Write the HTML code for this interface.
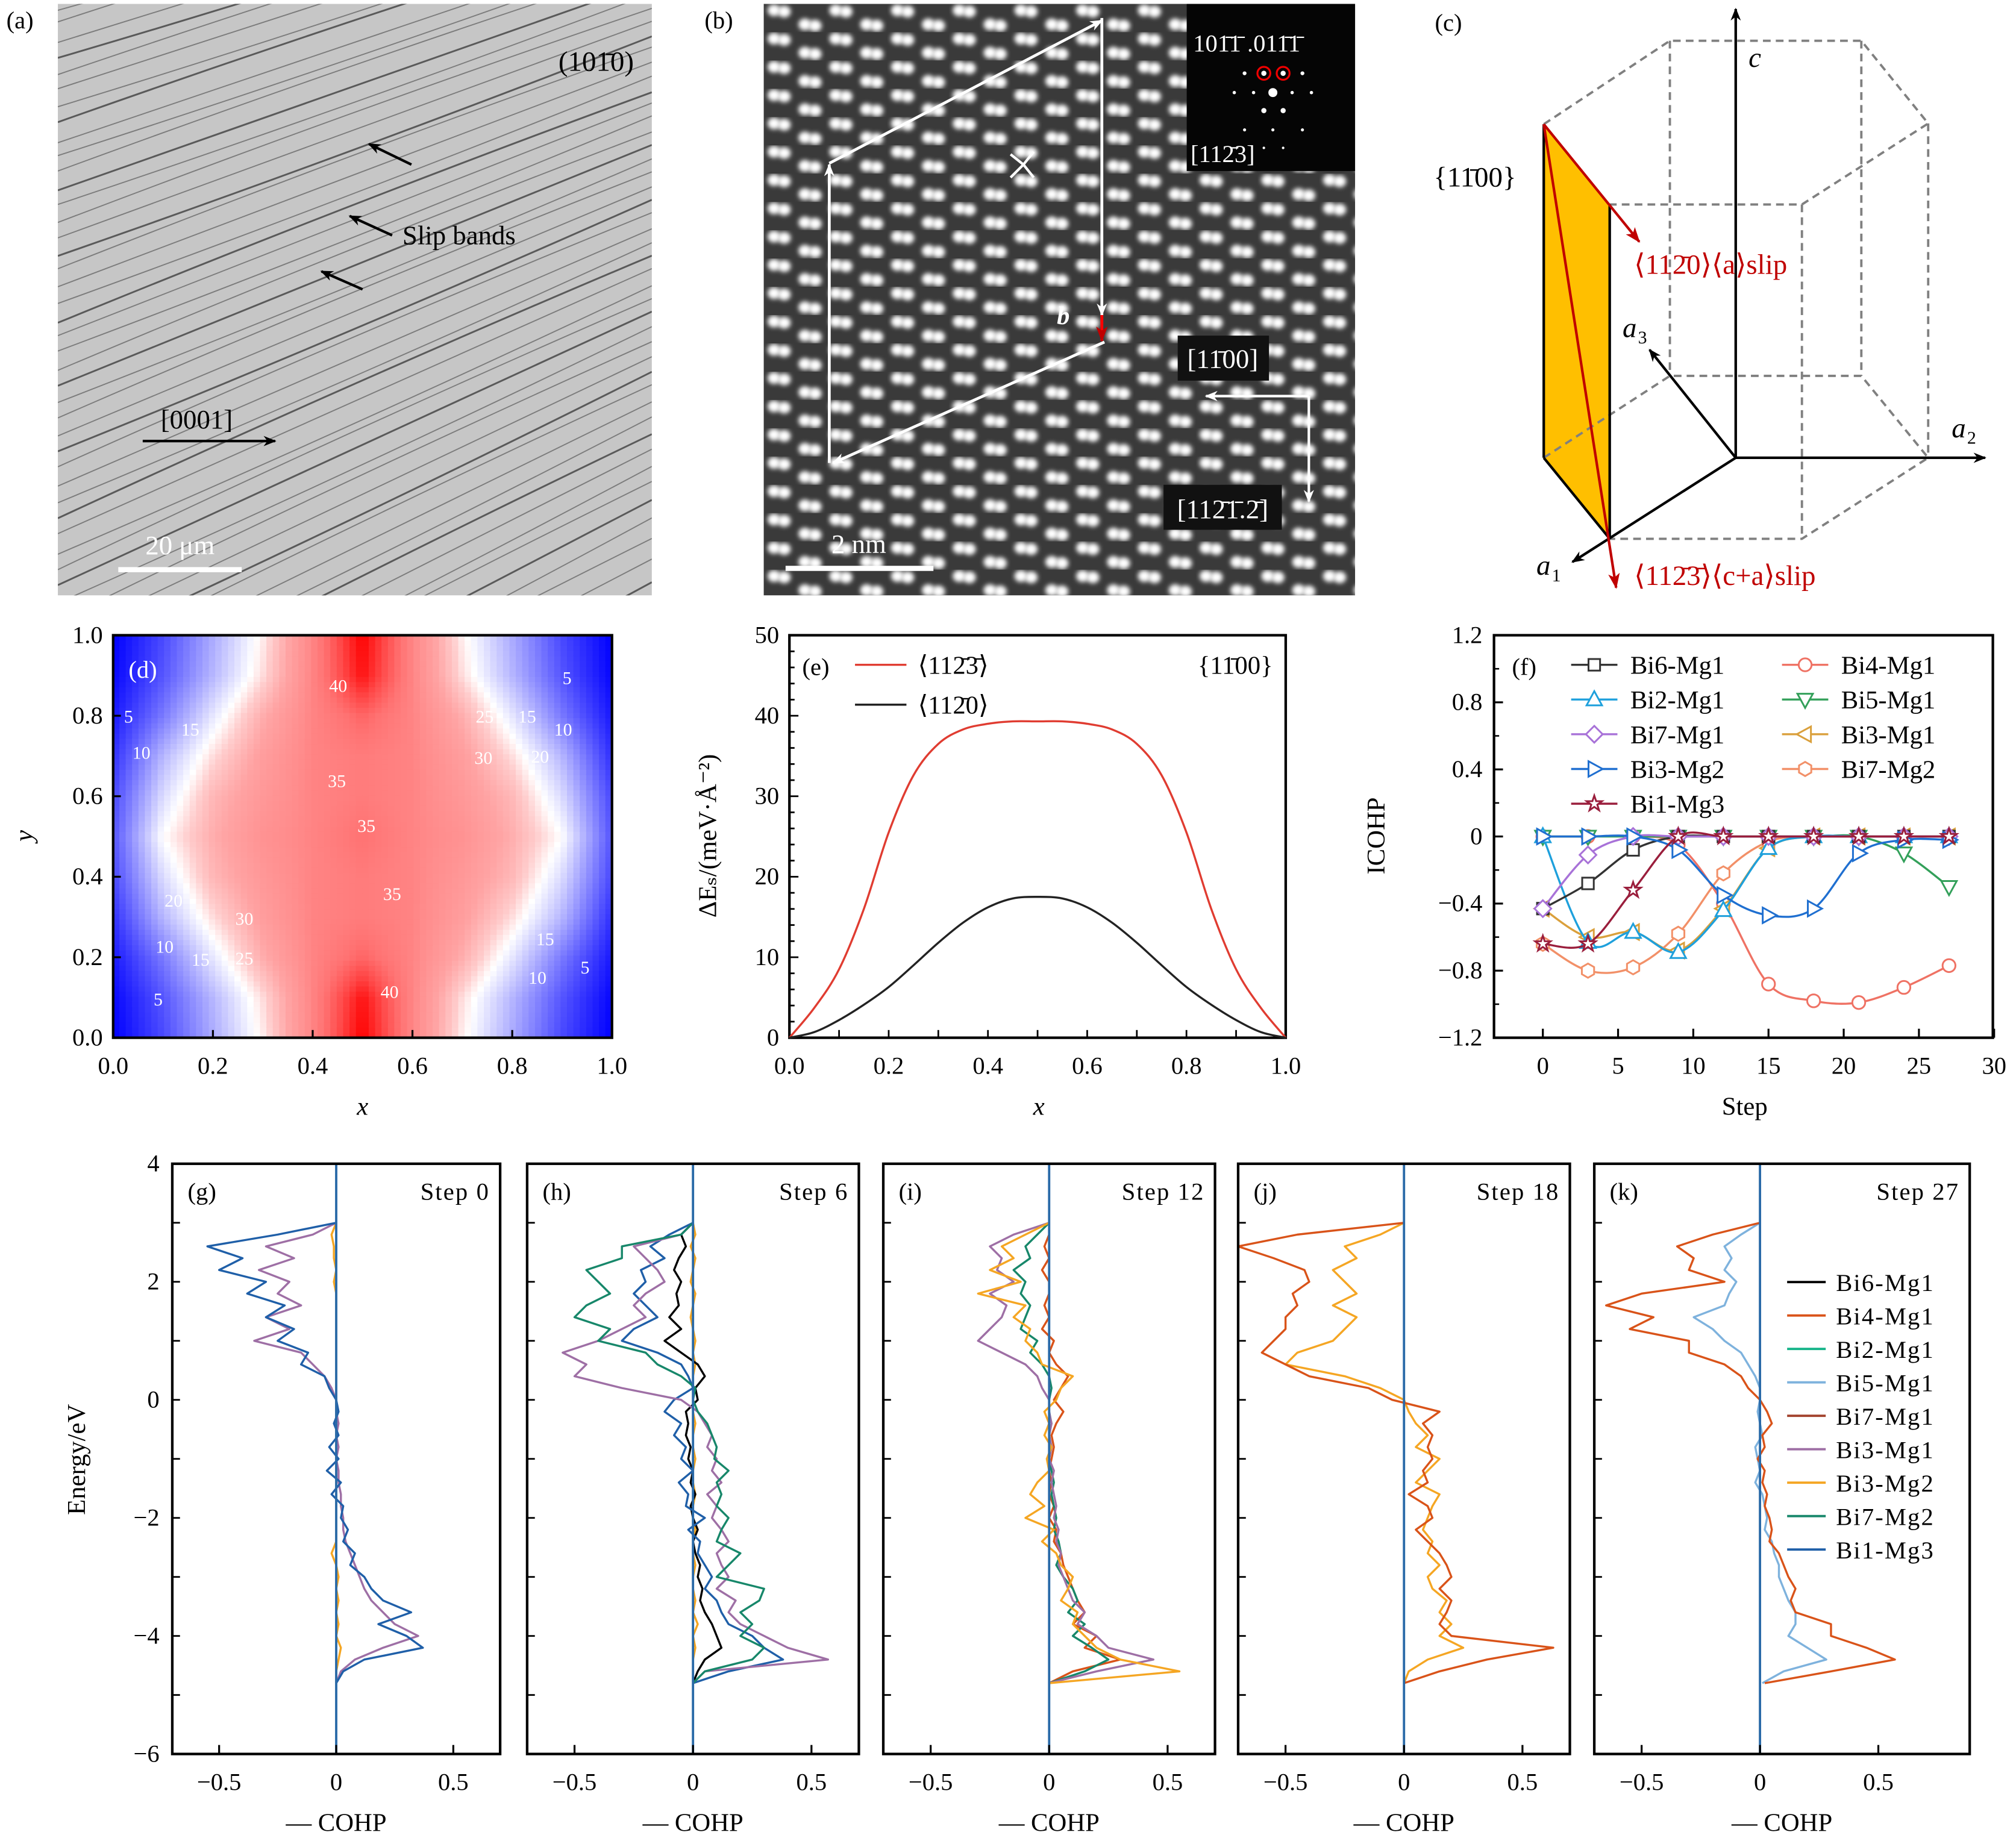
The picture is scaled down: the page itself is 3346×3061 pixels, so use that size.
<!DOCTYPE html>
<html><head><meta charset="utf-8">
<style>
html,body{margin:0;padding:0;background:#fff;}
svg{display:block;}
svg text{font-family:"Liberation Serif","DejaVu Serif",serif;}
</style></head>
<body>
<svg id="fig" xmlns="http://www.w3.org/2000/svg" width="3346" height="3061" viewBox="0 0 1568 1434" preserveAspectRatio="none" font-family="Liberation Serif, DejaVu Serif, serif">
<defs>
  <clipPath id="clipA"><rect x="45" y="3" width="462" height="460"/></clipPath>
  <clipPath id="clipB"><rect x="594" y="3" width="460" height="460"/></clipPath>
  <filter id="blur1" x="-50%" y="-50%" width="200%" height="200%"><feGaussianBlur stdDeviation="1.8"/></filter>
  <pattern id="lattice" x="594" y="3" width="48" height="22" patternUnits="userSpaceOnUse">
    <ellipse cx="8" cy="5" rx="5" ry="4.6" fill="#ffffff" filter="url(#blur1)"/>
    <ellipse cx="16" cy="6" rx="5" ry="4.6" fill="#ffffff" filter="url(#blur1)"/>
    <ellipse cx="32" cy="16" rx="5" ry="4.6" fill="#ffffff" filter="url(#blur1)"/>
    <ellipse cx="40" cy="17" rx="5" ry="4.6" fill="#ffffff" filter="url(#blur1)"/>
  </pattern>
  <marker id="arrK" markerWidth="10" markerHeight="8" refX="9" refY="4" orient="auto" markerUnits="userSpaceOnUse"><path d="M0,0 L10,4 L0,8 L3,4 Z" fill="#000"/></marker>
  <marker id="arrW" markerWidth="10" markerHeight="8" refX="9" refY="4" orient="auto" markerUnits="userSpaceOnUse"><path d="M0,0 L10,4 L0,8 L3,4 Z" fill="#fff"/></marker>
  <marker id="arrR" markerWidth="12" markerHeight="9" refX="11" refY="4.5" orient="auto" markerUnits="userSpaceOnUse"><path d="M0,0 L12,4.5 L0,9 L3,4.5 Z" fill="#c00000"/></marker>
</defs>
</svg>
<script>
// ===== Data arrays =====
const eX = [0,0.05,0.1,0.15,0.2,0.25,0.3,0.35,0.4,0.45,0.5,0.55,0.6,0.65,0.7,0.75,0.8,0.85,0.9,0.95,1.0];
const eRed = [0,3.7,8.5,16,25.5,32.6,36.5,38.3,39,39.3,39.3,39.3,39,38.3,36.5,32.6,25.5,16,8.5,3.7,0];
const eBlack = [0,0.7,2.2,4.1,6.3,9,11.8,14.3,16.2,17.3,17.5,17.3,16.2,14.3,11.8,9,6.3,4.1,2.2,0.7,0];
const fSteps = [0,3,6,9,12,15,18,21,24,27];
const fBi6Mg1 = [-0.43,-0.28,-0.08,0,0,0,0,0,0,0];
const fBi2Mg1 = [0,-0.63,-0.57,-0.69,-0.44,-0.07,0,0,0,0];
const fBi7Mg1 = [-0.43,-0.11,0,0,0,0,0,0,0,0];
const fBi3Mg2 = [0,0,0,-0.08,-0.35,-0.47,-0.43,-0.1,-0.02,-0.02];
const fBi1Mg3 = [-0.64,-0.64,-0.32,0,0,0,0,0,0,0];
const fBi4Mg1 = [0,0,0,-0.05,-0.4,-0.88,-0.98,-0.99,-0.9,-0.77];
const fBi5Mg1 = [0,0,0,0,0,0,0,0,-0.1,-0.3];
const fBi3Mg1 = [-0.43,-0.6,-0.57,-0.68,-0.43,-0.07,0,0,0,0];
const fBi7Mg2 = [-0.64,-0.8,-0.78,-0.58,-0.22,-0.03,0,0,0,0];
const dGrid = [
 [0,6,14,22,33,42],
 [0.5,7,15,23,33,41],
 [2,10,19,27,33,36],
 [4,15,23,29,33,34],
 [6,18,26,30,33,34],
 [7,21,27,31,33,35],
 [6,18,26,30,33,34],
 [4,15,23,29,33,34],
 [2,10,19,27,33,36],
 [0.5,7,15,23,33,41],
 [0,6,14,22,33,42]];
const cohpE = [3.0,2.8,2.6,2.4,2.2,2.0,1.8,1.6,1.4,1.2,1.0,0.8,0.6,0.4,0.2,0,-0.2,-0.4,-0.6,-0.8,-1.0,-1.2,-1.4,-1.6,-1.8,-2.0,-2.2,-2.4,-2.6,-2.8,-3.0,-3.2,-3.4,-3.6,-3.8,-4.0,-4.2,-4.4,-4.6,-4.8];
const gBi3Mg2 = [0,-0.02,-0.01,-0.01,0,-0.01,0,0,0,0,0,0,0,0,0,0,0,0,0,0,0,0,0,0,0,0,0,0,-0.02,0,0.01,0,0.01,0,0.01,0,0.02,0.01,0,0];
const gBi3Mg1 = [0,-0.1,-0.3,-0.18,-0.33,-0.2,-0.25,-0.15,-0.3,-0.2,-0.35,-0.15,-0.1,-0.05,-0.02,0,0,0.01,0,0.01,0,0.01,0.01,0.02,0.02,0.03,0.03,0.04,0.06,0.08,0.1,0.12,0.15,0.2,0.25,0.35,0.2,0.08,0.02,0];
const gBi1Mg3 = [0,-0.25,-0.55,-0.4,-0.5,-0.3,-0.38,-0.22,-0.3,-0.18,-0.25,-0.12,-0.15,-0.05,-0.03,0,0.01,-0.01,0.01,-0.03,0.01,-0.04,0.02,-0.02,0.03,0.02,0.05,0.03,0.08,0.06,0.12,0.15,0.2,0.32,0.18,0.3,0.37,0.12,0.03,0];
const hBi3Mg2 = [0,0.01,-0.01,0.01,0,-0.01,0.01,0,-0.01,0,0.01,0,0.01,0,0,0,0,0.01,0,0,0.01,0,0,0.01,0,0,0.01,0,0,0.01,0,0,0.01,0,0.02,0,0.01,0,0,0];
const hBi6Mg1 = [0,-0.05,-0.03,-0.06,-0.08,-0.05,-0.07,-0.06,-0.1,-0.05,-0.12,-0.05,0.02,0.05,0.01,0.02,-0.03,-0.02,-0.03,-0.01,-0.02,0,-0.01,0.01,-0.01,0,0.02,0,0.01,0.03,0.02,0.04,0.03,0.05,0.08,0.1,0.12,0.05,0.02,0];
const hBi1Mg3 = [0,-0.1,-0.18,-0.12,-0.22,-0.2,-0.25,-0.2,-0.15,-0.25,-0.3,-0.15,-0.05,-0.02,0,-0.08,-0.12,-0.05,-0.08,-0.03,-0.05,0,-0.06,-0.02,-0.03,0.05,-0.02,0.03,0.02,0.05,0.08,0.05,0.1,0.12,0.15,0.25,0.3,0.38,0.15,0];
const hBi3Mg1 = [0,-0.05,-0.25,-0.2,-0.15,-0.12,-0.2,-0.25,-0.2,-0.3,-0.4,-0.55,-0.45,-0.5,-0.3,-0.05,0.02,0.05,0.08,0.06,0.1,0.08,0.12,0.06,0.1,0.08,0.12,0.15,0.1,0.12,0.15,0.1,0.18,0.15,0.2,0.3,0.4,0.57,0.05,0];
const hBi7Mg2 = [0,-0.05,-0.3,-0.3,-0.45,-0.4,-0.35,-0.45,-0.5,-0.35,-0.4,-0.2,-0.15,-0.05,0.01,0,0.02,0.06,0.08,0.1,0.09,0.15,0.1,0.12,0.1,0.15,0.12,0.1,0.2,0.15,0.1,0.3,0.28,0.2,0.25,0.2,0.3,0.25,0.05,0];
const iBi4Mg1 = [0,0,-0.02,0,-0.03,0,0,-0.02,0,-0.03,0.02,0,0.03,0.08,0.05,0.02,0.06,0.03,0.01,0.02,0.01,0,0.01,0,0.02,0,0.03,0.02,0.05,0.06,0.08,0.1,0.12,0.15,0.1,0.2,0.15,0.3,0.1,0];
const iBi7Mg2 = [0,-0.05,-0.1,-0.08,-0.15,-0.1,-0.12,-0.08,-0.1,-0.12,-0.05,-0.08,-0.03,0,0.01,0,0,0.01,0,0.01,0,0.01,0.02,0.01,0.02,0.03,0.02,0.04,0.05,0.03,0.06,0.1,0.12,0.08,0.15,0.1,0.18,0.25,0.15,0];
const iBi3Mg1 = [0,-0.15,-0.25,-0.2,-0.22,-0.15,-0.25,-0.18,-0.2,-0.25,-0.3,-0.2,-0.1,-0.05,-0.03,0,0,0.01,0,0.01,0,0.02,0.01,0.02,0.03,0.02,0.04,0.03,0.05,0.04,0.06,0.08,0.1,0.15,0.12,0.2,0.25,0.44,0.2,0];
const iBi3Mg2 = [0,-0.1,-0.2,-0.15,-0.25,-0.12,-0.3,-0.1,-0.15,-0.08,-0.1,-0.05,-0.03,0.1,0.05,0.03,-0.02,0,-0.02,0.01,-0.01,0,-0.05,-0.08,-0.02,-0.1,0.02,-0.03,0.03,0.05,0.1,0.08,0.05,0.12,0.1,0.15,0.2,0.3,0.55,0];
const jBi3Mg2 = [0,-0.1,-0.25,-0.2,-0.3,-0.25,-0.2,-0.3,-0.2,-0.25,-0.3,-0.45,-0.5,-0.25,-0.1,0,0.02,0.05,0.1,0.05,0.15,0.1,0.05,0.15,0.12,0.1,0.08,0.12,0.1,0.15,0.1,0.12,0.18,0.15,0.2,0.15,0.25,0.1,0.02,0];
const jBi4Mg1 = [0,-0.45,-0.7,-0.55,-0.42,-0.4,-0.47,-0.45,-0.5,-0.5,-0.55,-0.6,-0.5,-0.4,-0.15,-0.05,0.15,0.08,0.12,0.1,0.12,0.08,0.1,0.02,0.1,0.12,0.05,0.1,0.15,0.18,0.2,0.15,0.2,0.18,0.15,0.2,0.63,0.35,0.15,0];
const kBi5Mg1 = [0,-0.08,-0.15,-0.12,-0.15,-0.1,-0.13,-0.15,-0.28,-0.2,-0.15,-0.08,-0.05,-0.02,0,0,-0.01,0,0.01,-0.02,-0.01,0,-0.02,0.01,0.02,0.03,0.02,0.05,0.06,0.08,0.08,0.1,0.12,0.15,0.15,0.12,0.2,0.28,0.1,0.01];
const kBi4Mg1 = [0,-0.2,-0.35,-0.28,-0.3,-0.15,-0.5,-0.65,-0.45,-0.55,-0.3,-0.3,-0.15,-0.08,-0.05,0,0.03,0.05,0.01,0.02,-0.01,0.02,0.01,0.03,0.02,0.04,0.05,0.04,0.08,0.1,0.12,0.15,0.13,0.15,0.3,0.3,0.45,0.57,0.3,0.02];
const cohpXTicks = [-0.5,0,0.5];
const cohpYTicks = [4,2,0,-2,-4,-6];
const fXTicks = [0,5,10,15,20,25,30];
const fYTicks = [1.2,0.8,0.4,0,-0.4,-0.8,-1.2];
const eXTicks = [0,0.2,0.4,0.6,0.8,1.0];
const eYTicks = [0,10,20,30,40,50];
const dTicks = [0,0.2,0.4,0.6,0.8,1.0];

// ===== helpers =====
const NS='http://www.w3.org/2000/svg';
const svgRoot=document.getElementById('fig');
function mk(tag,attrs,parent){const e=document.createElementNS(NS,tag);for(const k in attrs)e.setAttribute(k,attrs[k]);(parent||svgRoot).appendChild(e);return e;}
function txt(x,y,s,opt,parent){opt=opt||{};const t=mk('text',{x:x,y:y,'font-size':opt.size||19,'text-anchor':opt.anchor||'start',fill:opt.fill||'#000','font-family':'Liberation Serif, DejaVu Serif, serif'},parent);if(opt.style)t.setAttribute('style',opt.style);if(opt.transform)t.setAttribute('transform',opt.transform);t.textContent=s;return t;}
function fmt(v){return (v<0?'\u2212':'')+Math.abs(v);}
function smoothPath(pts){
  let d='M'+pts[0][0]+','+pts[0][1];
  for(let i=0;i<pts.length-1;i++){
    const p0=pts[Math.max(0,i-1)],p1=pts[i],p2=pts[i+1],p3=pts[Math.min(pts.length-1,i+2)];
    const c1=[p1[0]+(p2[0]-p0[0])/6,p1[1]+(p2[1]-p0[1])/6];
    const c2=[p2[0]-(p3[0]-p1[0])/6,p2[1]-(p3[1]-p1[1])/6];
    d+=' C'+c1[0]+','+c1[1]+' '+c2[0]+','+c2[1]+' '+p2[0]+','+p2[1];
  }
  return d;
}
function lin(d0,d1,r0,r1){return v=>r0+(v-d0)/(d1-d0)*(r1-r0);}

// ===== Panel (a) =====
const gA=mk('g',{'clip-path':'url(#clipA)'});


mk('rect',{x:45,y:3,width:462,height:460,fill:'#c6c6c6'},gA);
const aLineOffsets=[-60,-45,-38,-20,-8,5,14,30,42,55,66,80,92,108,118,130,145,156,170,182,196,206,220,233,248,258,270,285,297,310,322,336,348,360,375,388,400,412,428,440,452,466,480,494,508,520,536,550,566,580,596,610,626,640,656,672,690];
aLineOffsets.forEach((b,i)=>{
  const slope=-0.3-0.22*Math.min(1,Math.max(0,b/620));
  const y0=3+b, y1=y0+slope*462;
  const p=mk('path',{d:'M45,'+y0+' Q276,'+((y0+y1)/2+(i%3-1)*5)+' 507,'+y1,stroke:(i%4==0?'#5a5a5a':'#7c7c7c'),'stroke-width':(i%4==0?1.4:0.9),fill:'none'},gA);
  
  
});
txt(5,22,'(a)',{size:19});
txt(493,55,'(101\u03040)',{size:22,anchor:'end'});
[[320,128,287,112],[305,183,272,168],[282,225,250,211]].forEach(a=>{
  const l=mk('line',{x1:a[0],y1:a[1],x2:a[2],y2:a[3],stroke:'#000','stroke-width':2,'marker-end':'url(#arrK)'});
  
  
});
txt(313,190,'Slip bands',{size:21});
const a0001=mk('line',{x1:111,y1:343,x2:214,y2:343,stroke:'#000','stroke-width':2,'marker-end':'url(#arrK)'});


txt(125,333,'[0001]',{size:21});
const sbA=mk('rect',{x:92,y:441,width:96,height:4,fill:'#fff'});


txt(140,431,'20 \u03bcm',{size:21,anchor:'middle',fill:'#fff'});

// ===== Panel (b) =====
const gB=mk('g',{'clip-path':'url(#clipB)'});


mk('rect',{x:594,y:3,width:460,height:460,fill:'#3a3a3a'},gB);
mk('rect',{x:594,y:3,width:460,height:460,fill:'url(#lattice)'},gB);
const fftBox=mk('rect',{x:923,y:3,width:131,height:130,fill:'#050505'},gB);


[[990,72,3.5],[983,57,2],[998,57,2],[968,57,1.5],[1013,57,1.5],[983,86,2],[998,86,2],[960,72,1.3],[975,72,1.3],[1005,72,1.3],[1020,72,1.3],[968,101,1.2],[990,101,1.2],[1013,101,1.2],[983,115,1],[998,115,1]].forEach(s=>mk('circle',{cx:s[0],cy:s[1],r:s[2],fill:'#fff'},gB));
mk('circle',{cx:983,cy:57,r:5,fill:'none',stroke:'#e00','stroke-width':1.5},gB);
mk('circle',{cx:998,cy:57,r:5,fill:'none',stroke:'#e00','stroke-width':1.5},gB);
txt(928,40,'101\u03041\u0304 .011\u03041\u0304',{size:19,fill:'#fff'},gB);
txt(926,126,'[112\u03043]',{size:19,fill:'#fff'},gB);
const pg=mk('g',{stroke:'#fff','stroke-width':2.2,fill:'none'},gB);


mk('line',{x1:645,y1:360,x2:645,y2:128,'marker-end':'url(#arrW)'},pg);
mk('line',{x1:645,y1:127,x2:857,y2:16,'marker-end':'url(#arrW)'},pg);
mk('line',{x1:857,y1:14,x2:857,y2:245,'marker-end':'url(#arrW)'},pg);
mk('line',{x1:859,y1:266,x2:648,y2:360,'marker-end':'url(#arrW)'},pg);
mk('line',{x1:857,y1:245,x2:857,y2:265,stroke:'#f00','stroke-width':2.2,'marker-end':'url(#arrR)'},gB);
mk('path',{d:'M786,120 L796,128 L786,138 M796,128 L804,118 M796,128 L804,138',stroke:'#fff','stroke-width':2,fill:'none'},gB);
txt(822,252,'b',{size:20,fill:'#fff',style:'font-weight:bold;font-style:italic'},gB);
mk('rect',{x:916,y:261,width:71,height:35,fill:'#111'},gB);
txt(951,286,'[11\u030400]',{size:21,anchor:'middle',fill:'#fff'},gB);
mk('rect',{x:905,y:377,width:92,height:35,fill:'#111'},gB);
txt(951,403,'[112\u03041\u0304.2\u0304]',{size:21,anchor:'middle',fill:'#fff'},gB);
mk('line',{x1:1018,y1:308,x2:938,y2:308,stroke:'#fff','stroke-width':2,'marker-end':'url(#arrW)'},gB);
mk('line',{x1:1018,y1:308,x2:1018,y2:390,stroke:'#fff','stroke-width':2,'marker-end':'url(#arrW)'},gB);
mk('rect',{x:611,y:440,width:115,height:4,fill:'#fff'},gB);
txt(668,430,'2 nm',{size:21,anchor:'middle',fill:'#fff'},gB);
txt(548,22,'(b)',{size:19});

// ===== Panel (c) =====
const gC=mk('g',{});


const hexTop=[[1200.7,96.6],[1298.8,31.7],[1447.7,31.7],[1499.7,96],[1401.5,159],[1252,159]];
const hexBot=[[1200.7,356],[1298.8,292.3],[1447.7,292.3],[1499.7,356],[1401.5,419],[1252,419]];
mk('polygon',{points:'1200.7,96.6 1252,159 1252,419 1200.7,356',fill:'#ffbf00'},gC);
const dashSt={stroke:'#808080','stroke-width':1.8,'stroke-dasharray':'6,4',fill:'none'};
mk('polyline',Object.assign({points:hexTop.map(p=>p.join(',')).join(' ')},dashSt),gC);
mk('polyline',Object.assign({points:hexBot.map(p=>p.join(',')).join(' ')},dashSt),gC);
[1,2,3,4].forEach(i=>mk('line',Object.assign({x1:hexTop[i][0],y1:hexTop[i][1],x2:hexBot[i][0],y2:hexBot[i][1]},dashSt),gC));
mk('line',{x1:1200.7,y1:96.6,x2:1200.7,y2:356,stroke:'#000','stroke-width':2},gC);
mk('line',{x1:1252,y1:159,x2:1252,y2:419,stroke:'#000','stroke-width':2},gC);
mk('line',{x1:1200.7,y1:356,x2:1252,y2:419,stroke:'#000','stroke-width':2},gC);
mk('line',{x1:1350,y1:356,x2:1350,y2:7,stroke:'#000','stroke-width':2,'marker-end':'url(#arrK)'},gC);
mk('line',{x1:1350,y1:356,x2:1544,y2:356,stroke:'#000','stroke-width':2,'marker-end':'url(#arrK)'},gC);
mk('line',{x1:1350,y1:356,x2:1283,y2:272,stroke:'#000','stroke-width':2,'marker-end':'url(#arrK)'},gC);
mk('line',{x1:1350,y1:356,x2:1223,y2:437,stroke:'#000','stroke-width':2,'marker-end':'url(#arrK)'},gC);
mk('line',{x1:1200.7,y1:96.6,x2:1275,y2:188,stroke:'#c00000','stroke-width':2,'marker-end':'url(#arrR)'},gC);
mk('line',{x1:1200.7,y1:96.6,x2:1257,y2:457,stroke:'#c00000','stroke-width':2,'marker-end':'url(#arrR)'},gC);
txt(1116,24,'(c)',{size:19});
txt(1360,52,'c',{size:22,style:'font-style:italic'});
txt(1518,340,'a',{size:22,style:'font-style:italic'});txt(1530,345,'2',{size:14});
txt(1262,262,'a',{size:22,style:'font-style:italic'});txt(1274,267,'3',{size:14});
txt(1195,447,'a',{size:22,style:'font-style:italic'});txt(1207,452,'1',{size:14});
txt(1115,145,'{11\u030400}',{size:22});
txt(1271,213,'\u27e8112\u03040\u27e9\u27e8a\u27e9slip',{size:22,fill:'#c00000'});
txt(1271,455,'\u27e8112\u03043\u0304\u27e9\u27e8c+a\u27e9slip',{size:22,fill:'#c00000'});

// ===== Panel (d) heatmap =====
const dx=lin(0,1,88,476), dy=lin(0,1,807,494);
function dVal(x,y){
  const xm=x>0.5?1-x:x; const c=xm/0.1, r=y/0.1;
  const c0=Math.min(4,Math.floor(c)), r0=Math.min(9,Math.floor(r));
  const fc=c-c0, fr=r-r0;
  const v00=dGrid[r0][c0],v01=dGrid[r0][c0+1],v10=dGrid[r0+1][c0],v11=dGrid[r0+1][c0+1];
  return (v00*(1-fc)+v01*fc)*(1-fr)+(v10*(1-fc)+v11*fc)*fr;
}
const redStops=[[21,1],[24,0.8],[28,0.64],[32,0.55],[35,0.45],[38,0.28],[42,0]];
function dColor(v){
  if(v<=21){const t=v/21;const r=Math.round(255*t);return 'rgb('+r+','+r+',255)';}
  let k=0;
  for(let i=0;i<redStops.length-1;i++){const a=redStops[i],b=redStops[i+1];if(v>=a[0]&&v<=b[0]){k=a[1]+(v-a[0])/(b[0]-a[0])*(b[1]-a[1]);break;}}
  if(v>42)k=0;
  const g=Math.round(255*k);
  return 'rgb(255,'+g+','+g+')';
}
const gD=mk('g',{});


const NC=78;
for(let i=0;i<NC;i++){for(let j=0;j<NC;j++){
  const x=(i+0.5)/NC,y=(j+0.5)/NC;
  const c=mk('rect',{x:dx(i/NC)-0.2,y:dy((j+1)/NC)-0.2,width:388/NC+0.5,height:313/NC+0.5,fill:dColor(dVal(x,y))},gD);
  
  
}}
[['40',263,538],['5',100,562],['10',110,590],['15',148,572],['25',377,562],['15',410,562],['10',438,572],['5',441,532],['30',376,594],['20',420,593],['35',262,612],['35',285,647],['35',305,700],['20',135,705],['30',190,719],['10',128,741],['15',156,751],['25',190,750],['15',424,735],['10',418,765],['5',455,757],['5',123,782],['40',303,776]].forEach(l=>txt(l[1],l[2],l[0],{size:14,anchor:'middle',fill:'#fff'}));
txt(100,527,'(d)',{size:19,fill:'#fff'});
mk('rect',{x:88,y:494,width:388,height:313,fill:'none',stroke:'#000','stroke-width':2});
dTicks.forEach(t=>{
  mk('line',{x1:dx(t),y1:807,x2:dx(t),y2:801,stroke:'#000','stroke-width':1.5});
  mk('line',{x1:88,y1:dy(t),x2:94,y2:dy(t),stroke:'#000','stroke-width':1.5});
  txt(dx(t),835,t.toFixed(1),{anchor:'middle'});
  txt(80,dy(t)+6,t.toFixed(1),{anchor:'end'});
});
txt(282,867,'x',{size:20,anchor:'middle',style:'font-style:italic'});
txt(25,650,'y',{size:20,anchor:'middle',style:'font-style:italic',transform:'rotate(-90 25 650)'});

// ===== Panel (e) =====
const ex=lin(0,1,614,1000), ey=lin(0,50,807,494);
mk('rect',{x:614,y:494,width:386,height:313,fill:'none',stroke:'#000','stroke-width':2});
for(let k=0;k<=10;k++){const t=k/10;mk('line',{x1:ex(t),y1:807,x2:ex(t),y2:801,stroke:'#000','stroke-width':1.3});}
for(let t=0;t<=50;t+=2){mk('line',{x1:614,y1:ey(t),x2:(t%10==0?621:618),y2:ey(t),stroke:'#000','stroke-width':1.3});}
eXTicks.forEach(t=>txt(ex(t),835,t.toFixed(1),{anchor:'middle'}));
eYTicks.forEach(t=>txt(606,ey(t)+6,String(t),{anchor:'end'}));
const eR=mk('path',{d:smoothPath(eX.map((x,i)=>[ex(x),ey(eRed[i])])),stroke:'#e03c31','stroke-width':1.6,fill:'none'});


const eB=mk('path',{d:smoothPath(eX.map((x,i)=>[ex(x),ey(eBlack[i])])),stroke:'#222','stroke-width':1.6,fill:'none'});


txt(624,525,'(e)',{size:19});
mk('line',{x1:665,y1:517,x2:705,y2:517,stroke:'#e03c31','stroke-width':1.6});
txt(714,524,'\u27e8112\u03043\u0304\u27e9',{size:20});
mk('line',{x1:665,y1:548,x2:705,y2:548,stroke:'#222','stroke-width':1.6});
txt(714,555,'\u27e8112\u03040\u27e9',{size:20});
txt(990,524,'{11\u030400}',{size:20,anchor:'end'});
txt(808,867,'x',{size:20,anchor:'middle',style:'font-style:italic'});
const eyl=txt(557,650,'\u0394E\u209b/(meV\u00b7\u00c5\u207b\u00b2)',{size:20,anchor:'middle',transform:'rotate(-90 557 650)'});


// ===== Panel (f) =====
const fx=lin(0,30,1200,1551), fy=lin(-1.2,1.2,807,494);
mk('rect',{x:1162,y:494,width:388,height:313,fill:'none',stroke:'#000','stroke-width':2});
fXTicks.forEach(t=>{mk('line',{x1:fx(t),y1:807,x2:fx(t),y2:800,stroke:'#000','stroke-width':1.5});txt(fx(t),835,String(t),{anchor:'middle'});});
fYTicks.forEach(t=>{mk('line',{x1:1162,y1:fy(t),x2:1169,y2:fy(t),stroke:'#000','stroke-width':1.5});txt(1153,fy(t)+6,fmt(t),{anchor:'end'});});
[1.0,0.6,0.2,-0.2,-0.6,-1.0].forEach(t=>mk('line',{x1:1162,y1:fy(t),x2:1166,y2:fy(t),stroke:'#000','stroke-width':1.2}));
txt(1357,867,'Step',{size:20,anchor:'middle'});
txt(1077,650,'ICOHP',{size:20,anchor:'middle',transform:'rotate(-90 1077 650)'});
function drawMarker(shape,x,y,color,parent){
  const s=5.5; let e;
  const st={fill:'#fff',stroke:color,'stroke-width':1.4};
  if(shape==='square')e=mk('rect',Object.assign({x:x-s+1,y:y-s+1,width:2*s-2,height:2*s-2},st),parent);
  else if(shape==='circle')e=mk('circle',Object.assign({cx:x,cy:y,r:s-0.5},st),parent);
  else{
    let pts;
    if(shape==='up')pts=[[0,-s-1],[s+0.5,s-1],[-s-0.5,s-1]];
    else if(shape==='down')pts=[[0,s+1],[s+0.5,-s+1],[-s-0.5,-s+1]];
    else if(shape==='right')pts=[[s+1,0],[-s+1,-s-0.5],[-s+1,s+0.5]];
    else if(shape==='left')pts=[[-s-1,0],[s-1,-s-0.5],[s-1,s+0.5]];
    else if(shape==='diamond')pts=[[0,-s-1],[s+1,0],[0,s+1],[-s-1,0]];
    else if(shape==='hex'){pts=[];for(let k=0;k<6;k++){const a=Math.PI/6+k*Math.PI/3;pts.push([s*Math.cos(a),s*Math.sin(a)]);}}
    else {pts=[];for(let k=0;k<10;k++){const a=-Math.PI/2+k*Math.PI/5;const r=k%2?s*0.45:s+0.8;pts.push([r*Math.cos(a),r*Math.sin(a)]);}}
    e=mk('polygon',Object.assign({points:pts.map(p=>(x+p[0])+','+(y+p[1])).join(' ')},st),parent);
  }
  return e;
}
const fSeries=[
 ['Bi6-Mg1',fBi6Mg1,'#333333','square',0,0],
 ['Bi2-Mg1',fBi2Mg1,'#1ea0dc','up',0,1],
 ['Bi7-Mg1',fBi7Mg1,'#a872d8','diamond',0,2],
 ['Bi3-Mg2',fBi3Mg2,'#1f6fd0','right',0,3],
 ['Bi1-Mg3',fBi1Mg3,'#9a1e3c','star',0,4],
 ['Bi4-Mg1',fBi4Mg1,'#ef7264','circle',1,0],
 ['Bi5-Mg1',fBi5Mg1,'#33a05a','down',1,1],
 ['Bi3-Mg1',fBi3Mg1,'#daa03c','left',1,2],
 ['Bi7-Mg2',fBi7Mg2,'#f29068','hex',1,3]];
const drawOrder=[5,6,7,8,1,0,2,3,4];
drawOrder.forEach(k=>{
  const s=fSeries[k];
  const g=mk('g',{});
  
  
  mk('path',{d:smoothPath(fSteps.map((st,i)=>[fx(st),fy(s[1][i])])),stroke:s[2],'stroke-width':1.6,fill:'none'},g);
  fSteps.forEach((st,i)=>{
    const m=drawMarker(s[3],fx(st),fy(s[1][i]),s[2],g);
    
    
  });
});
txt(1176,525,'(f)',{size:19});
fSeries.forEach(s=>{
  const lx=s[4]?1386:1222, ly=517+s[5]*27;
  const g=mk('g',{});
  
  
  mk('line',{x1:lx,y1:ly,x2:lx+36,y2:ly,stroke:s[2],'stroke-width':1.6},g);
  drawMarker(s[3],lx+18,ly,s[2],g);
  txt(lx+46,ly+7,s[0],{size:20},g);
});

// ===== COHP panels =====
const cohpColors={'Bi6-Mg1':'#000000','Bi4-Mg1':'#d95319','Bi2-Mg1':'#14b388','Bi5-Mg1':'#7eb2dd','Bi7-Mg1':'#a2422c','Bi3-Mg1':'#9e6fa5','Bi3-Mg2':'#f5a623','Bi7-Mg2':'#17876a','Bi1-Mg3':'#1f5fa8'};
const cohpPanels=[
 {tag:'g',x0:134,x1:389,xmax:0.70,step:'Step 0',series:[['Bi3-Mg2',gBi3Mg2],['Bi3-Mg1',gBi3Mg1],['Bi1-Mg3',gBi1Mg3]]},
 {tag:'h',x0:410,x1:668,xmax:0.70,step:'Step 6',series:[['Bi3-Mg2',hBi3Mg2],['Bi6-Mg1',hBi6Mg1],['Bi1-Mg3',hBi1Mg3],['Bi3-Mg1',hBi3Mg1],['Bi7-Mg2',hBi7Mg2]]},
 {tag:'i',x0:687,x1:945,xmax:0.70,step:'Step 12',series:[['Bi4-Mg1',iBi4Mg1],['Bi7-Mg2',iBi7Mg2],['Bi3-Mg1',iBi3Mg1],['Bi3-Mg2',iBi3Mg2]]},
 {tag:'j',x0:963,x1:1221,xmax:0.70,step:'Step 18',series:[['Bi3-Mg2',jBi3Mg2],['Bi4-Mg1',jBi4Mg1]]},
 {tag:'k',x0:1240,x1:1532,xmax:0.886,step:'Step 27',series:[['Bi5-Mg1',kBi5Mg1],['Bi4-Mg1',kBi4Mg1]]}];
const cyScale=lin(-6,4,1364,905);
cohpPanels.forEach(p=>{
  const cx=lin(-0.70,p.xmax,p.x0,p.x1);
  const g=mk('g',{});
  
  
  p.series.forEach(s=>{
    const pts=cohpE.map((E,i)=>cx(s[1][i]).toFixed(2)+','+cyScale(E).toFixed(2)).join(' ');
    const l=mk('polyline',{points:pts,stroke:cohpColors[s[0]],'stroke-width':1.6,fill:'none','stroke-linejoin':'round'},g);
    
    
  });
  mk('line',{x1:cx(0),y1:905,x2:cx(0),y2:1364,stroke:'#2a6aa8','stroke-width':1.8},g);
  mk('rect',{x:p.x0,y:905,width:p.x1-p.x0,height:459,fill:'none',stroke:'#000','stroke-width':2},g);
  for(let E=3;E>=-5;E--){mk('line',{x1:p.x0,y1:cyScale(E),x2:p.x0+6,y2:cyScale(E),stroke:'#000','stroke-width':1.3},g);}
  cohpXTicks.forEach(t=>{mk('line',{x1:cx(t),y1:1364,x2:cx(t),y2:1357,stroke:'#000','stroke-width':1.5},g);txt(cx(t),1392,fmt(t),{anchor:'middle'},g);});
  txt(p.x0+12,933,'('+p.tag+')',{size:19},g);
  txt(p.x1-8,933,p.step,{size:19,anchor:'end',style:'letter-spacing:1px'},g);
  txt((p.x0+p.x1)/2,1424,'\u2014 COHP',{size:20,anchor:'middle'},g);
});
cohpYTicks.forEach(t=>txt(124,cyScale(t)+6,fmt(t),{anchor:'end'}));
txt(66,1135,'Energy/eV',{size:20,anchor:'middle',transform:'rotate(-90 66 1135)'});
Object.keys(cohpColors).forEach((n,i)=>{
  const ly=997+i*26;
  const g=mk('g',{});
  
  
  mk('line',{x1:1390,y1:ly,x2:1420,y2:ly,stroke:cohpColors[n],'stroke-width':1.8},g);
  txt(1428,ly+7,n,{size:19,style:'letter-spacing:1px'},g);
});
</script>
</body></html>
